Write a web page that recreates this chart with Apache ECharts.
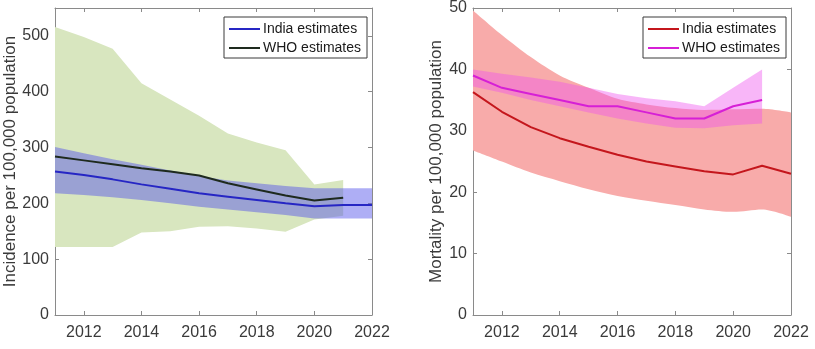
<!DOCTYPE html>
<html>
<head>
<meta charset="utf-8">
<script src="https://cdn.jsdelivr.net/npm/echarts@6/dist/echarts.min.js"></script>
<style>
html,body{margin:0;padding:0;background:#fff;}
#c{width:815px;height:349px;}
</style>
</head>
<body>
<div id="c"></div>
<script>
// ---- data ----
const years = ['2011','2012','2013','2014','2015','2016','2017','2018','2019','2020','2021','2022'];
const legendNames = ['India estimates', 'WHO estimates'];
const incTicks = [0, 100, 200, 300, 400, 500];
const mortTicks = [0, 10, 20, 30, 40, 50];

// Incidence (left panel)
const indiaInc     = [257, 251, 243, 234, 226, 218, 212, 206, 200, 195, 197, 197];
const indiaIncLow  = [218, 215, 211, 206, 200, 194, 189, 184, 179, 173, 173, 173];
const indiaIncHigh = [301, 290, 279, 269, 259, 249, 241, 236, 231, 227, 227, 227];
const whoInc       = [284, 277, 270, 263, 257, 250, 236, 225, 214, 205, 210, null];
const whoIncLow    = [122, 122, 122, 148, 150, 158, 159, 155, 149, 171, 178, null];
const whoIncHigh   = [516, 498, 477, 415, 386, 357, 325, 309, 295, 234, 242, null];

// Mortality (right panel)
const indiaMort     = [36.3, 33.1, 30.6, 28.8, 27.4, 26.1, 25.0, 24.2, 23.4, 22.9, 24.3, 23.0];
const indiaMortLow  = [26.8, 25.0, 23.2, 21.8, 20.5, 19.4, 18.6, 17.9, 17.2, 16.8, 17.2, 16.0];
const indiaMortHigh = [49.6, 45.6, 42.0, 39.0, 37.0, 35.2, 34.3, 33.7, 33.4, 33.5, 33.6, 33.0];
const whoMort       = [39, 37, 36, 35, 34, 34, 33, 32, 32, 34, 35, null];
const whoMortLow    = [37.2, 36.2, 35.0, 34.0, 33.0, 32.0, 31.2, 30.5, 30.4, 30.9, 31.2, null];
const whoMortHigh   = [40.0, 39.3, 38.7, 38.0, 37.0, 36.0, 35.3, 34.8, 34.0, 37.0, 40.0, null];

// ---- helpers ----
const FONT = 'Liberation Sans, Arial, sans-serif';
const AX = '#8a8a8a';
const TXT = '#3a3a3a';
const diff = (hi, lo) => hi.map((v, i) => (v == null || lo[i] == null) ? null : +(v - lo[i]).toFixed(2));
const even = (i, v) => (+v) % 2 === 0;
const LINE_ICON = 'path://M0,0 L31,0 L31,2 L0,2 Z';

function xAx(gridIndex, top) {
  return {
    type: 'category', gridIndex, data: years, boundaryGap: false,
    position: top ? 'top' : 'bottom',
    axisLine: { show: true, onZero: false, lineStyle: { color: AX, width: 1 } },
    axisTick: { show: true, inside: true, length: 4, interval: even, lineStyle: { color: AX } },
    axisLabel: { show: !top, interval: even, color: TXT, fontFamily: FONT, fontSize: 16, margin: 10 },
    splitLine: { show: false }
  };
}
function yAx(gridIndex, right, max, interval, ticks, name, nameGap) {
  return {
    type: 'value', gridIndex, min: ticks[0], max, interval,
    position: right ? 'right' : 'left',
    name: right ? '' : name, nameLocation: 'middle', nameGap,
    nameTextStyle: { color: TXT, fontFamily: FONT, fontSize: 17 },
    axisLine: { show: true, onZero: false, lineStyle: { color: AX, width: 1 } },
    axisTick: { show: true, inside: true, length: 4, lineStyle: { color: AX } },
    axisLabel: { show: !right, color: TXT, fontFamily: FONT, fontSize: 16, margin: 6, showMaxLabel: ticks.indexOf(max) >= 0 },
    splitLine: { show: false }
  };
}
function band(name, xi, yi, lo, hi, color, smooth) {
  return [
    { name: name + '_lo', type: 'line', xAxisIndex: xi, yAxisIndex: yi, stack: name, data: lo,
      symbol: 'none', lineStyle: { width: 0, opacity: 0 }, smooth: smooth || false, silent: true, z: 1 },
    { name: name + '_band', type: 'line', xAxisIndex: xi, yAxisIndex: yi, stack: name, data: diff(hi, lo),
      symbol: 'none', lineStyle: { width: 0, opacity: 0 }, areaStyle: { color, opacity: 1 },
      smooth: smooth || false, silent: true, z: 1 }
  ];
}
function line(name, xi, yi, data, color) {
  return { name, type: 'line', xAxisIndex: xi, yAxisIndex: yi, data, symbol: 'none',
    lineStyle: { color, width: 2 }, itemStyle: { color }, silent: true, z: 3 };
}
function legend(left, names) {
  return {
    left, top: 17, orient: 'vertical',
    data: names.map(n => ({ name: n, icon: LINE_ICON })),
    backgroundColor: '#fff', borderColor: '#3a3a3a', borderWidth: 1,
    padding: [5, 6, 3, 5], itemGap: 5, itemWidth: 31, itemHeight: 14,
    textStyle: { color: '#1a1a1a', fontFamily: FONT, fontSize: 14, padding: [0, 0, 0, -2] },
    formatter: n => n.replace(' (mortality)', ''), selectedMode: false
  };
}

const chart = echarts.init(document.getElementById('c'), null, { renderer: 'canvas' });
chart.setOption({
  animation: false,
  backgroundColor: '#fff',
  grid: [
    { left: 55, right: 443, top: 8, bottom: 34, outerBoundsMode: 'none' },
    { left: 473, right: 24, top: 8, bottom: 34, outerBoundsMode: 'none' }
  ],
  xAxis: [ xAx(0, false), xAx(0, true), xAx(1, false), xAx(1, true) ],
  yAxis: [
    yAx(0, false, 550, 100, incTicks, 'Incidence per 100,000 population', 33),
    yAx(0, true, 550, 100, incTicks, '', 0),
    yAx(1, false, 50, 10, mortTicks, 'Mortality per 100,000 population', 24),
    yAx(1, true, 50, 10, mortTicks, '', 0)
  ],
  legend: [
    legend(224, legendNames),
    legend(643, legendNames.map(n => n + ' (mortality)'))
  ],
  series: [
    ...band('whoInc', 0, 0, whoIncLow, whoIncHigh, '#d8e6bf'),
    ...band('indInc', 0, 0, indiaIncLow, indiaIncHigh, 'rgba(85,85,235,0.48)'),
    line(legendNames[0], 0, 0, indiaInc, '#2626c4'),
    line(legendNames[1], 0, 0, whoInc, '#1e2a1e'),
    ...band('indMort', 2, 2, indiaMortLow, indiaMortHigh, '#f8abaa', 0.3),
    ...band('whoMort', 2, 2, whoMortLow, whoMortHigh, 'rgba(238,80,238,0.42)'),
    line(legendNames[0] + ' (mortality)', 2, 2, indiaMort, '#c4161c'),
    line(legendNames[1] + ' (mortality)', 2, 2, whoMort, '#d61fd6')
  ]
});
</script>
</body>
</html>
